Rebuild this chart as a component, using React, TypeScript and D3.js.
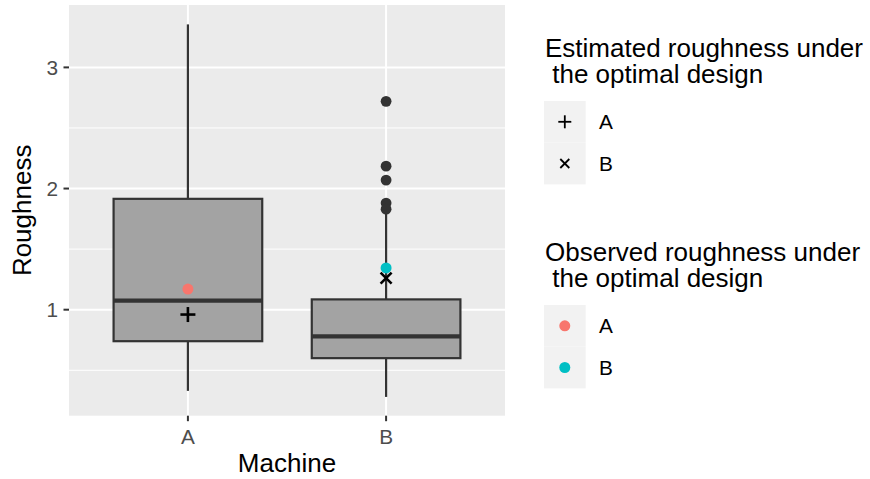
import React from "react";
import * as d3 from "d3";

// Machines on the x axis
const machines = ["A", "B"];
// Boxplot summaries per machine
const whiskerLow = [0.33, 0.28];
const quart1 = [0.74, 0.6];
const medians = [1.075, 0.78];
const quart3 = [1.915, 1.085];
const whiskerHigh = [3.355, 1.8];
// Outlying observations per machine
const outliersA: number[] = [];
const outliersB = [2.72, 2.185, 2.07, 1.88, 1.83];
// Estimated and observed roughness under the optimal design
const estimated = [0.96, 1.26];
const observed = [1.17, 1.345];
const obsColors = ["#F8766D", "#00BFC4"];
const yTicks = [1, 2, 3];
const yMinor = [0.5, 1.5, 2.5];
const estTitle = ["Estimated roughness under", " the optimal design"];
const obsTitle = ["Observed roughness under", " the optimal design"];

const W = 870;
const H = 479;
const panel = { left: 69, right: 505, top: 5, bottom: 415.7 };
const FONT = "Liberation Sans, Arial, sans-serif";
const TITLE_SIZE = 26;
const TEXT_SIZE = 20.8;

function Plus({ x, y, s, sw }: { x: number; y: number; s: number; sw: number }) {
  return (
    <g stroke="#000" strokeWidth={sw}>
      <line x1={x - s} x2={x + s} y1={y} y2={y} />
      <line x1={x} x2={x} y1={y - s} y2={y + s} />
    </g>
  );
}

function Cross({ x, y, s, sw }: { x: number; y: number; s: number; sw: number }) {
  return (
    <g stroke="#000" strokeWidth={sw}>
      <line x1={x - s} x2={x + s} y1={y - s} y2={y + s} />
      <line x1={x - s} x2={x + s} y1={y + s} y2={y - s} />
    </g>
  );
}

function LegendTitle({ lines, y }: { lines: string[]; y: number }) {
  return (
    <text x={545} y={y} fontSize={TITLE_SIZE} fill="#000" style={{ whiteSpace: "pre" }}>
      {lines.map((l, i) => (
        <tspan key={i} x={545} dy={i === 0 ? 0 : 26}>
          {l}
        </tspan>
      ))}
    </text>
  );
}

export default function App() {
  const x = d3
    .scalePoint<string>()
    .domain(machines)
    .range([panel.left, panel.right])
    .padding(0.6);
  const step = x.step();
  const boxW = step * 0.75;
  const y = d3.scaleLinear().domain([0.125, 3.515]).range([panel.bottom, panel.top]);
  const outliers = [outliersA, outliersB];

  return (
    <div style={{ position: "absolute", left: 0, top: 0 }}>
      <svg width={W} height={H} style={{ display: "block", fontFamily: FONT }}>
        <rect x={0} y={0} width={W} height={H} fill="#fff" />
        {/* panel */}
        <rect
          x={panel.left}
          y={panel.top}
          width={panel.right - panel.left}
          height={panel.bottom - panel.top}
          fill="#EBEBEB"
        />
        {yMinor.map((v) => (
          <line key={"mn" + v} x1={panel.left} x2={panel.right} y1={y(v)} y2={y(v)} stroke="#fff" strokeWidth={1} />
        ))}
        {yTicks.map((v) => (
          <line key={"mj" + v} x1={panel.left} x2={panel.right} y1={y(v)} y2={y(v)} stroke="#fff" strokeWidth={2} />
        ))}
        {machines.map((m) => (
          <line key={"vx" + m} x1={x(m)} x2={x(m)} y1={panel.top} y2={panel.bottom} stroke="#fff" strokeWidth={2} />
        ))}

        {/* boxplots */}
        {machines.map((m, i) => {
          const cx = x(m)!;
          return (
            <g key={"box" + m}>
              <line x1={cx} x2={cx} y1={y(quart3[i])} y2={y(whiskerHigh[i])} stroke="#333" strokeWidth={2.2} />
              <line x1={cx} x2={cx} y1={y(quart1[i])} y2={y(whiskerLow[i])} stroke="#333" strokeWidth={2.2} />
              <rect
                x={cx - boxW / 2}
                y={y(quart3[i])}
                width={boxW}
                height={y(quart1[i]) - y(quart3[i])}
                fill="#A3A3A3"
                stroke="#333"
                strokeWidth={2.2}
              />
              <line
                x1={cx - boxW / 2}
                x2={cx + boxW / 2}
                y1={y(medians[i])}
                y2={y(medians[i])}
                stroke="#333"
                strokeWidth={4.4}
              />
              {outliers[i].map((v, j) => (
                <circle key={j} cx={cx} cy={y(v)} r={5.4} fill="#333" />
              ))}
            </g>
          );
        })}

        {/* observed points */}
        {machines.map((m, i) => (
          <circle key={"ob" + m} cx={x(m)} cy={y(observed[i])} r={5.5} fill={obsColors[i]} />
        ))}
        {/* estimated points */}
        <Plus x={x("A")!} y={y(estimated[0])} s={7.5} sw={2.6} />
        <Cross x={x("B")!} y={y(estimated[1])} s={5.5} sw={2.6} />

        {/* y axis */}
        {yTicks.map((v) => (
          <g key={"yt" + v}>
            <line x1={panel.left - 5.5} x2={panel.left} y1={y(v)} y2={y(v)} stroke="#333" strokeWidth={2} />
            <text x={panel.left - 11} y={y(v)} dy="0.36em" textAnchor="end" fontSize={TEXT_SIZE} fill="#4D4D4D">
              {v}
            </text>
          </g>
        ))}
        {/* x axis */}
        {machines.map((m) => (
          <g key={"xt" + m}>
            <line x1={x(m)} x2={x(m)} y1={panel.bottom} y2={panel.bottom + 5.5} stroke="#333" strokeWidth={2} />
            <text x={x(m)} y={443.5} textAnchor="middle" fontSize={TEXT_SIZE} fill="#4D4D4D">
              {m}
            </text>
          </g>
        ))}
        <text x={(panel.left + panel.right) / 2} y={472} textAnchor="middle" fontSize={TITLE_SIZE} fill="#000">
          Machine
        </text>
        <text
          transform={`translate(30.5,${(panel.top + panel.bottom) / 2}) rotate(-90)`}
          textAnchor="middle"
          fontSize={TITLE_SIZE}
          fill="#000"
        >
          Roughness
        </text>

        {/* legend: estimated */}
        <LegendTitle lines={estTitle} y={57} />
        {machines.map((m, i) => {
          const ky = 101 + i * 41.7;
          return (
            <g key={"le" + m}>
              <rect x={544} y={ky} width={41.7} height={41.7} fill="#F2F2F2" />
              {i === 0 ? (
                <Plus x={564.8} y={ky + 20.8} s={6.5} sw={1.8} />
              ) : (
                <Cross x={564.8} y={ky + 20.8} s={4.5} sw={1.8} />
              )}
              <text x={599} y={ky + 20.8} dy="0.36em" fontSize={TEXT_SIZE} fill="#000">
                {m}
              </text>
            </g>
          );
        })}

        {/* legend: observed */}
        <LegendTitle lines={obsTitle} y={261} />
        {machines.map((m, i) => {
          const ky = 305 + i * 41.7;
          return (
            <g key={"lo" + m}>
              <rect x={544} y={ky} width={41.7} height={41.7} fill="#F2F2F2" />
              <circle cx={564.8} cy={ky + 20.8} r={5.5} fill={obsColors[i]} />
              <text x={599} y={ky + 20.8} dy="0.36em" fontSize={TEXT_SIZE} fill="#000">
                {m}
              </text>
            </g>
          );
        })}
      </svg>
    </div>
  );
}
